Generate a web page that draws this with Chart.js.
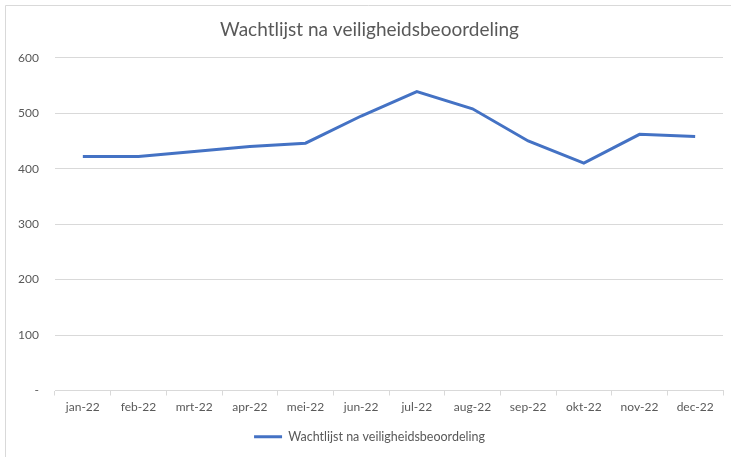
<!DOCTYPE html>
<html>
<head>
<meta charset="utf-8">
<script src="https://cdn.jsdelivr.net/npm/chart.js@4/dist/chart.umd.min.js"></script>
<style>
  html, body { margin: 0; padding: 0; background: #fff; }
  #wrap { width: 731px; height: 457px; position: relative; }
</style>
</head>
<body>
<div id="wrap"><canvas id="c" width="731" height="457"></canvas></div>
<script>
const categories = ["jan-22","feb-22","mrt-22","apr-22","mei-22","jun-22","jul-22","aug-22","sep-22","okt-22","nov-22","dec-22"];
const seriesName = "Wachtlijst na veiligheidsbeoordeling";
const values = [422, 422, 431, 440, 446, 495, 539, 508, 450, 410, 462, 458];
const yTicks = [0, 100, 200, 300, 400, 500, 600];
const titleText = "Wachtlijst na veiligheidsbeoordeling";

const txt = '#595959';
const grid = '#d9d9d9';

const framePlugin = {
  id: 'frame',
  beforeDraw(chart) {
    const ctx = chart.ctx;
    ctx.save();
    ctx.fillStyle = '#fff';
    ctx.fillRect(0, 0, chart.width, chart.height);
    ctx.strokeStyle = grid;
    ctx.lineWidth = 1;
    ctx.beginPath();
    ctx.moveTo(5.5, chart.height);
    ctx.lineTo(5.5, 5.5);
    ctx.lineTo(chart.width, 5.5);
    ctx.stroke();
    ctx.restore();
  }
};

new Chart(document.getElementById('c'), {
  type: 'line',
  data: {
    labels: categories,
    datasets: [{
      label: seriesName,
      data: values,
      borderColor: '#4472C4',
      backgroundColor: '#4472C4',
      borderWidth: 3,
      pointRadius: 0,
      pointHoverRadius: 0,
      tension: 0,
      fill: false
    }]
  },
  options: {
    responsive: false,
    animation: false,
    devicePixelRatio: 1,
    layout: { padding: { left: 16, right: 8, top: 0, bottom: 4 } },
    plugins: {
      title: {
        display: true,
        text: titleText,
        color: txt,
        font: { family: 'Lato', size: 19, weight: 'normal' },
        padding: { top: 18, bottom: 17 }
      },
      legend: {
        display: true,
        position: 'bottom',
        labels: {
          color: txt,
          font: { family: 'Lato', size: 12.5 },
          usePointStyle: true,
          pointStyle: 'line',
          pointStyleWidth: 28,
          padding: 10
        }
      },
      tooltip: { enabled: false }
    },
    scales: {
      x: {
        offset: true,
        grid: {
          offset: true,
          drawOnChartArea: false,
          drawTicks: true,
          tickLength: 5,
          color: grid
        },
        border: { display: true, color: grid },
        ticks: {
          color: txt,
          font: { family: 'Lato', size: 12 },
          padding: 4,
          maxRotation: 0,
          autoSkip: false
        },
        afterFit(scale) { scale.height = 30; }
      },
      y: {
        min: 0,
        max: 600,
        afterBuildTicks(scale) { scale.ticks = yTicks.map(v => ({ value: v })); },
        grid: { drawTicks: false, color: grid },
        border: { display: false },
        ticks: {
          color: txt,
          font: { family: 'Lato', size: 12 },
          padding: 16,
          callback: (v) => v === 0 ? '-' : String(v)
        },
        afterFit(scale) { scale.width = 39; }
      }
    }
  },
  plugins: [framePlugin]
});
</script>
</body>
</html>
